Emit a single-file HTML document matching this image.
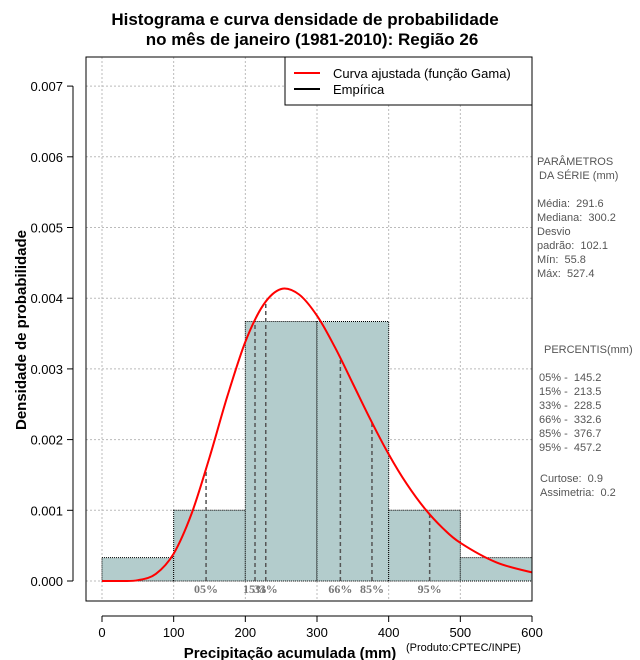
<!DOCTYPE html>
<html><head><meta charset="utf-8"><style>
body{margin:0;background:#fff;}
svg{display:block;font-family:"Liberation Sans",sans-serif;}
#stats text{white-space:pre;}
</style></head><body>
<svg id="chart" width="640" height="660" viewBox="0 0 640 660" xmlns="http://www.w3.org/2000/svg">
<text x="305" y="25" font-size="17" font-weight="bold" text-anchor="middle">Histograma e curva densidade de probabilidade</text>
<text x="312" y="45" font-size="17" font-weight="bold" text-anchor="middle">no mês de janeiro (1981-2010): Região 26</text>
<g id="grid"></g>
<g id="bars"></g>
<g id="pct"></g>
<path id="curve" fill="none" stroke="#ff0000" stroke-width="2"/>
<rect x="86" y="57" width="446" height="544" fill="none" stroke="#000"/>
<g id="axes"></g>
<text transform="translate(26,330) rotate(-90)" font-size="15" font-weight="bold" text-anchor="middle">Densidade de probabilidade</text>
<text x="290" y="658" font-size="15" font-weight="bold" text-anchor="middle">Precipitação acumulada (mm)</text>
<text x="406" y="651" font-size="11">(Produto:CPTEC/INPE)</text>
<g>
<rect x="285" y="57" width="247" height="48" fill="#fff" stroke="#000"/>
<line x1="294" y1="73" x2="320" y2="73" stroke="#ff0000" stroke-width="2"/>
<text x="333" y="78" font-size="13">Curva ajustada (função Gama)</text>
<line x1="294" y1="89" x2="320" y2="89" stroke="#000" stroke-width="2"/>
<text x="333" y="94" font-size="13">Empírica</text>
</g>
<g id="stats" font-size="11" fill="#555" xml:space="preserve">
<text x="537" y="165">PARÂMETROS</text>
<text x="539" y="179">DA SÉRIE (mm)</text>
<text x="537" y="207">Média:  291.6</text>
<text x="537" y="221">Mediana:  300.2</text>
<text x="537" y="235">Desvio</text>
<text x="537" y="249">padrão:  102.1</text>
<text x="537" y="263">Mín:  55.8</text>
<text x="537" y="277">Máx:  527.4</text>
<text x="544" y="353">PERCENTIS(mm)</text>
<text x="539" y="381">05% -  145.2</text>
<text x="539" y="395">15% -  213.5</text>
<text x="539" y="409">33% -  228.5</text>
<text x="539" y="423">66% -  332.6</text>
<text x="539" y="437">85% -  376.7</text>
<text x="539" y="451">95% -  457.2</text>
<text x="540" y="482">Curtose:  0.9</text>
<text x="540" y="496">Assimetria:  0.2</text>
</g>
</svg>
<script>
const binStarts=[0,100,200,300,400,500];
const binDensity=[0.00033,0.001,0.00367,0.00367,0.001,0.00033];
const curveX=[0,25,50,75,100,125,150,175,200,225,250,275,300,325,350,375,400,425,450,475,500,550,600];
const curveY=[0,0.0000002,0.000011,0.0000998,0.000388,0.000954,0.001747,0.002615,0.003382,0.003904,0.00413,0.004052,0.003753,0.003307,0.002793,0.002274,0.001794,0.001376,0.001029,0.000753,0.00054,0.000264,0.000121];
const pctLabels=["05%","15%","33%","66%","85%","95%"];
const pctValues=[145.2,213.5,228.5,332.6,376.7,457.2];
const xTicks=[0,100,200,300,400,500,600];
const yTicks=[0,0.001,0.002,0.003,0.004,0.005,0.006,0.007];
const yTickLabels=["0.000","0.001","0.002","0.003","0.004","0.005","0.006","0.007"];
const NS="http://www.w3.org/2000/svg";
const sx=v=>102+v*(430/600);
const sy=v=>581-v*70.7/0.001;
function mk(t,a,p){const e=document.createElementNS(NS,t);for(const k in a)e.setAttribute(k,a[k]);p.appendChild(e);return e;}
function dens(x){for(let i=0;i<curveX.length-1;i++){if(x>=curveX[i]&&x<=curveX[i+1]){const t=(x-curveX[i])/(curveX[i+1]-curveX[i]);return curveY[i]+t*(curveY[i+1]-curveY[i]);}}return 0;}
const grid=document.getElementById('grid'),bars=document.getElementById('bars'),pct=document.getElementById('pct'),axes=document.getElementById('axes');
xTicks.forEach(v=>{const l=mk('line',{x1:sx(v),x2:sx(v),y1:57,y2:601,stroke:'#bbb','stroke-dasharray':'2,2'},grid);
});
yTicks.forEach(v=>{const l=mk('line',{x1:86,x2:532,y1:sy(v),y2:sy(v),stroke:'#bbb','stroke-dasharray':'2,2'},grid);
});
binStarts.forEach((b,i)=>{const r=mk('rect',{x:sx(b),y:sy(binDensity[i]),width:sx(b+100)-sx(b),height:sy(0)-sy(binDensity[i]),fill:'#b3cccc',stroke:'#000','stroke-dasharray':'1,1'},bars);
});
pctValues.forEach((v,i)=>{const l=mk('line',{x1:sx(v),x2:sx(v),y1:sy(0),y2:sy(dens(v)),stroke:'#555','stroke-width':1.5,'stroke-dasharray':'4,3'},pct);

const t=mk('text',{x:sx(v),y:593,'font-size':12,'font-weight':'bold','font-family':'Liberation Serif,serif',fill:'#777','text-anchor':'middle'},pct);t.textContent=pctLabels[i];
});
// smooth Catmull-Rom curve through the data points
const P=curveX.map((x,i)=>[sx(x),sy(curveY[i])]);
let d='M'+P[0][0].toFixed(1)+','+P[0][1].toFixed(1);
for(let i=0;i<P.length-1;i++){const p0=P[Math.max(i-1,0)],p1=P[i],p2=P[i+1],p3=P[Math.min(i+2,P.length-1)];
const c1=[p1[0]+(p2[0]-p0[0])/6,p1[1]+(p2[1]-p0[1])/6],c2=[p2[0]-(p3[0]-p1[0])/6,p2[1]-(p3[1]-p1[1])/6];
d+='C'+c1.map(n=>n.toFixed(1)).join(',')+' '+c2.map(n=>n.toFixed(1)).join(',')+' '+p2.map(n=>n.toFixed(1)).join(',');}
document.getElementById('curve').setAttribute('d',d);
mk('line',{x1:sx(0),x2:sx(600),y1:616,y2:616,stroke:'#000'},axes);
xTicks.forEach(v=>{mk('line',{x1:sx(v),x2:sx(v),y1:616,y2:622,stroke:'#000'},axes);
const t=mk('text',{x:sx(v),y:637,'font-size':13,'text-anchor':'middle'},axes);t.textContent=v;
});
mk('line',{x1:73,x2:73,y1:sy(0),y2:sy(0.007),stroke:'#000'},axes);
yTicks.forEach((v,i)=>{mk('line',{x1:67,x2:73,y1:sy(v),y2:sy(v),stroke:'#000'},axes);
const t=mk('text',{x:63,y:sy(v)+5,'font-size':13,'text-anchor':'end'},axes);t.textContent=yTickLabels[i];
});
</script>
</body></html>
